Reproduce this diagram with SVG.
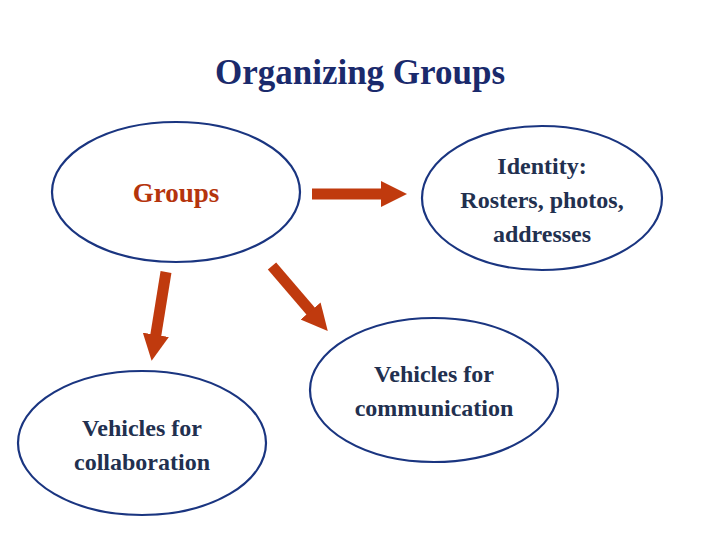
<svg xmlns="http://www.w3.org/2000/svg" width="720" height="540" viewBox="0 0 720 540">
<style>
.n{fill:#fff;stroke:#1a3580;stroke-width:2.2}
.t{font-family:"Liberation Serif",serif;font-weight:bold;font-size:24px;fill:#22304f;text-anchor:middle}
.a{stroke:#c03a0e;stroke-width:11;fill:none}
</style>
<defs><marker id="h" viewBox="0 0 10 10" refX="2" refY="5" markerWidth="2.4" markerHeight="2.6" orient="auto"><path d="M0,0L10,5L0,10z" fill="#c03a0e"/></marker></defs>
<rect width="720" height="540" fill="#fff"/>
<text x="360" y="84" style="font-family:'Liberation Serif',serif;font-weight:bold;font-size:35px;fill:#1a2a6c;text-anchor:middle">Organizing Groups</text>
<g id="groups"><ellipse class="n" cx="176" cy="192" rx="124" ry="70"/><text class="t" x="176" y="202" style="fill:#b5340c;font-size:27px">Groups</text></g>
<g id="identity"><ellipse class="n" cx="542" cy="198" rx="120" ry="72"/><text class="t" x="542" y="174">Identity:</text><text class="t" x="542" y="208">Rosters, photos,</text><text class="t" x="542" y="242">addresses</text></g>
<g id="communication"><ellipse class="n" cx="434" cy="390" rx="124" ry="72"/><text class="t" x="434" y="382">Vehicles for</text><text class="t" x="434" y="416">communication</text></g>
<g id="collaboration"><ellipse class="n" cx="142" cy="443" rx="124" ry="72"/><text class="t" x="142" y="436">Vehicles for</text><text class="t" x="142" y="470">collaboration</text></g>
<g id="connectors">
<line class="a" x1="312" y1="194" x2="386" y2="194" marker-end="url(#h)"/>
<line class="a" x1="166" y1="272" x2="155" y2="340" marker-end="url(#h)"/>
<line class="a" x1="272" y1="266" x2="314" y2="315" marker-end="url(#h)"/>
</g>
</svg>
